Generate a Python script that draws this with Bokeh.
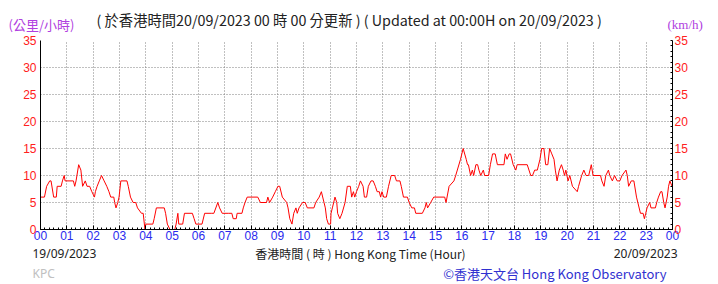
from bokeh.plotting import figure
from bokeh.models import Range1d, FixedTicker, LinearAxis, ColumnDataSource
from bokeh.layouts import column
from bokeh.core.properties import value
from bokeh.embed import file_html
from bokeh.resources import INLINE

# 10-min wind speed record, HH:MM -> km/h
times = [
 "00:00","00:09","00:14","00:21","00:24","00:30","00:36","00:38","00:47","00:50","00:54","00:56",
 "01:15","01:18","01:21","01:27","01:32","01:36","01:42","01:46","01:52","01:57",
 "02:03","02:05","02:09","02:14","02:19","02:25","02:31","02:36","02:40","02:47","02:49","02:52","02:56","02:59",
 "03:03","03:17","03:20","03:25","03:31","03:37","03:41","03:50","03:54","03:58",
 "04:00","04:16","04:19","04:24","04:42","04:45","04:49","04:55",
 "05:06","05:09","05:13","05:15","05:24","05:28","05:46","05:50","05:54",
 "06:08","06:14","06:29","06:35","06:44","06:48","06:54",
 "07:09","07:16","07:19","07:26","07:28","07:39","07:42","07:46","07:51",
 "08:15","08:21","08:35","08:38","08:42","08:49","08:55",
 "09:01","09:05","09:11","09:21","09:24","09:28","09:33","09:37","09:42","09:45","09:49","09:57",
 "10:03","10:08","10:23","10:27","10:35","10:40","10:46","10:49","10:52","10:56",
 "11:01","11:02","11:05","11:11","11:15","11:17","11:22","11:27","11:34","11:39","11:46","11:49","11:53","11:56",
 "12:00","12:05","12:09","12:15","12:18","12:23","12:27","12:33","12:38","12:43","12:47","12:52","12:55","12:58",
 "13:02","13:08","13:13","13:19","13:27","13:31","13:39","13:42","13:47","13:56",
 "14:00","14:06","14:12","14:15","14:30","14:36","14:39","14:42","14:49","14:56",
 "15:21","15:24","15:31","15:42","15:46","15:57",
 "16:03","16:10","16:13","16:15","16:20","16:24","16:27","16:32","16:36","16:39","16:43","16:49","16:52",
 "17:01","17:05","17:10","17:16","17:21","17:36","17:39","17:43","17:48","17:51","17:57",
 "18:03","18:06","18:29","18:37","18:41","18:46","18:52","18:58",
 "19:02","19:07","19:11","19:16","19:20","19:25","19:30","19:33","19:37","19:42","19:47","19:51","19:54","19:57",
 "20:02","20:06","20:12","20:23","20:26","20:33","20:38","20:43","20:49","20:52","20:55","20:59",
 "21:16","21:19","21:24","21:28","21:34","21:37","21:43","21:48","21:54",
 "22:00","22:05","22:14","22:17","22:20","22:26","22:32","22:38","22:47","22:53","22:56","22:59",
 "23:02","23:08","23:11","23:21","23:24","23:28","23:33","23:36","23:40","23:43","23:48","23:51","23:54","23:59","24:00",
]
speeds = [
 6,6,8,9,9,6,6,8,8,9,10,9,
 9,8,9,12,11,8,9,8,8,7,
 6,7,8,9,10,9,8,7,6,6,5,4,5,6,
 9,9,8,6,5,5,4,3,3,0,
 1,1,2,4,4,3,1,0,
 0,1,3,1,1,3,3,2,1,
 1,3,3,3,5,4,3,
 3,3,2,2,3,3,4,5,6,
 6,5,5,6,5,6,7,
 8,8,6,5,4,2,1,3,4,3,4,5,
 5,4,4,5,6,7,5,4,2,1,
 1,3,4,6,5,3,2,3,5,8,8,6,7,6,
 7,8,9,8,6,6,8,9,9,8,7,7,6,7,
 6,6,8,10,10,9,9,8,6,6,
 5,4,4,3,3,4,5,4,5,6,
 6,5,8,9,10,13,
 15,13,12,12,10,11,10,12,12,11,10,11,10,
 10,12,14,14,12,12,14,13,14,14,12,
 11,12,12,10,10,11,11,13,
 15,15,12,12,15,14,13,11,9,11,12,11,10,11,
 9,10,8,7,8,10,11,10,10,11,12,10,
 10,9,8,10,11,10,9,10,9,
 9,10,11,10,8,9,9,6,3,3,2,3,
 4,5,4,4,5,6,7,7,5,4,6,8,9,8,8,
]
hour_labels = ["00","01","02","03","04","05","06","07","08","09","10","11",
               "12","13","14","15","16","17","18","19","20","21","22","23","00"]
y_ticks = [0, 5, 10, 15, 20, 25, 30, 35]

title_text = "( 於香港時間20/09/2023 00 時 00 分更新 ) ( Updated at 00:00H on 20/09/2023 )"
unit_zh = "(公里/小時)"
unit_en = "(km/h)"
start_date = "19/09/2023"
end_date = "20/09/2023"
x_title = "香港時間 ( 時 ) Hong Kong Time (Hour)"
credit = "©香港天文台 Hong Kong Observatory"
station = "KPC"

hours = [int(t[:2]) + int(t[3:]) / 60 for t in times]
src = ColumnDataSource(dict(h=hours, v=speeds))

W = 718
CJK = "Noto Sans CJK TC"
FONT = "Liberation Sans"


def text_strip(height, top):
    f = figure(width=W, height=height, output_backend="svg", toolbar_location=None,
               x_range=Range1d(0, W), y_range=Range1d(top + height, top),
               min_border_left=0, min_border_right=0, min_border_top=0, min_border_bottom=0,
               x_axis_location=None, y_axis_location=None, frame_align=False)
    f.grid.visible = False
    f.outline_line_color = None
    f.background_fill_color = "white"
    f.border_fill_color = "white"
    return f


def put(f, x, y, text, color, size, font, align="left"):
    f.text(x=[x], y=[y], text=[text], text_color=color, text_font_size=size,
           text_font=value(font), text_align=align, text_baseline="middle")


# --- top strip (canvas rows 0..34)
top = text_strip(34, 0)
put(top, 8, 24, unit_zh, "#b040e0", "13px", CJK)
put(top, 96, 19, title_text, "#222222", "14.3px", CJK)
put(top, 667, 24, unit_en, "#b040e0", "13px", "Liberation Serif")

# --- main chart (canvas rows 34..246, frame 40..229)
p = figure(width=W, height=212, output_backend="svg", toolbar_location=None,
           x_range=Range1d(0, 24), y_range=Range1d(0, 35),
           min_border_left=40, min_border_right=46, min_border_top=6, min_border_bottom=17,
           y_axis_location=None, x_axis_location=None, frame_align=False)
p.outline_line_color = None
p.background_fill_color = "white"
p.border_fill_color = "white"

xaxis = LinearAxis(ticker=FixedTicker(ticks=list(range(25)),
                                      minor_ticks=[i / 6 for i in range(145)]))
xaxis.major_label_overrides = {i: hour_labels[i] for i in range(25)}
xaxis.major_label_text_color = "#2a2aee"
xaxis.major_label_text_font = FONT
xaxis.major_label_text_font_size = "12px"
xaxis.major_label_standoff = 1
xaxis.major_tick_in = 4
xaxis.major_tick_out = 0
xaxis.minor_tick_in = 2
xaxis.minor_tick_out = 0
xaxis.axis_line_color = "black"
p.add_layout(xaxis, "below")

for side in ("left", "right"):
    ax = LinearAxis(ticker=FixedTicker(ticks=y_ticks, minor_ticks=list(range(36))))
    ax.major_label_text_color = "#ff2020"
    ax.major_label_text_font = FONT
    ax.major_label_text_font_size = "12px"
    ax.major_label_standoff = 4 if side == "left" else 2
    ax.major_tick_in = 0
    ax.major_tick_out = 0
    ax.minor_tick_in = 2 if side == "right" else 0
    ax.minor_tick_out = 0
    ax.axis_line_color = "black"
    p.add_layout(ax, side)

p.xgrid.ticker = FixedTicker(ticks=list(range(25)))
p.ygrid.ticker = FixedTicker(ticks=y_ticks)
for g in (p.xgrid[0], p.ygrid[0]):
    g.grid_line_color = "#808080"
    g.grid_line_dash = "1 2"
    g.grid_line_width = 1

p.line("h", "v", source=src, line_color="#ff0000", line_width=1)

# --- bottom strip (canvas rows 246..284)
bot = text_strip(38, 246)
put(bot, 32, 253, start_date, "#222222", "12px", "Noto Sans")
put(bot, 360, 253, x_title, "#222222", "12px", CJK, "center")
put(bot, 677, 253, end_date, "#222222", "12px", "Noto Sans", "right")
put(bot, 32, 273, station, "#c0c0c0", "12px", "Noto Sans")
put(bot, 666, 273, credit, "#3030d0", "13px", CJK, "right")

layout = column(top, p, bot, spacing=0)
open("out.html", "w").write(file_html(layout, INLINE))
